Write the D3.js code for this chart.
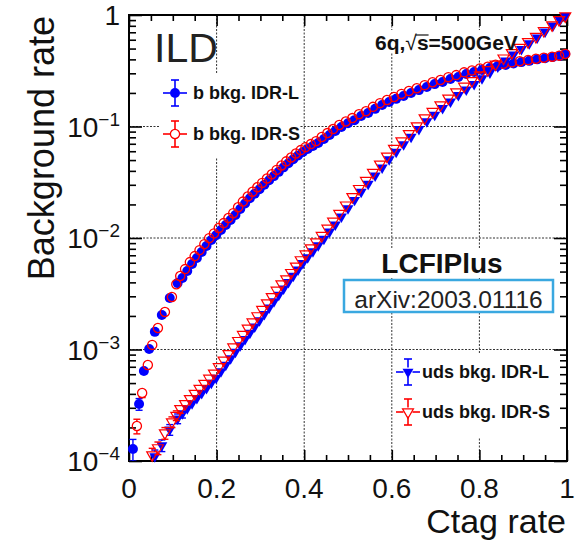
<!DOCTYPE html>
<html>
<head>
<meta charset="utf-8">
<script src="https://cdn.jsdelivr.net/npm/d3@7"></script>
<style>
  body { margin: 0; background: #fff; }
  svg text { font-family: "Liberation Sans", Arial, Helvetica, sans-serif; }
</style>
</head>
<body>
<svg width="576" height="540"></svg>
<script>
// c-tag efficiency scan, IDR-L model (b and uds share the same cut points)
var ctagL = [0.009, 0.023, 0.034, 0.046, 0.059, 0.075, 0.093, 0.111, 0.122, 0.133,
  0.144, 0.155, 0.166, 0.177, 0.188, 0.199, 0.210, 0.221, 0.232, 0.243,
  0.254, 0.265, 0.276, 0.287, 0.298, 0.309, 0.320, 0.331, 0.342, 0.353,
  0.364, 0.375, 0.386, 0.397, 0.408, 0.420, 0.432, 0.445, 0.458, 0.471,
  0.485, 0.500, 0.515, 0.530, 0.546, 0.562, 0.578, 0.594, 0.610, 0.627,
  0.644, 0.662, 0.680, 0.698, 0.716, 0.734, 0.752, 0.770, 0.788, 0.806,
  0.824, 0.842, 0.860, 0.878, 0.896, 0.914, 0.932, 0.950, 0.968, 0.984,
  0.996];
var bkgBL = [1.28e-4, 3.24e-4, 6.41e-4, 1.01e-3, 1.44e-3, 2.04e-3, 2.90e-3, 3.94e-3, 4.38e-3, 5.06e-3,
  5.85e-3, 6.62e-3, 7.48e-3, 8.47e-3, 9.59e-3, 1.06e-2, 1.18e-2, 1.31e-2, 1.45e-2, 1.61e-2,
  1.82e-2, 2.04e-2, 2.27e-2, 2.50e-2, 2.74e-2, 3.00e-2, 3.29e-2, 3.59e-2, 3.92e-2, 4.30e-2,
  4.68e-2, 5.08e-2, 5.50e-2, 5.90e-2, 6.28e-2, 6.68e-2, 7.11e-2, 7.73e-2, 8.39e-2, 9.12e-2,
  9.91e-2, 0.107, 0.114, 0.124, 0.132, 0.144, 0.156, 0.166, 0.177, 0.188,
  0.200, 0.212, 0.226, 0.240, 0.251, 0.267, 0.278, 0.296, 0.308, 0.321,
  0.335, 0.349, 0.356, 0.368, 0.378, 0.388, 0.400, 0.410, 0.420, 0.430,
  0.447];
var bkgUdsL = [null, null, null, null, 1.10e-4, 1.38e-4, 1.91e-4, 2.40e-4, 2.67e-4, 2.96e-4,
  3.29e-4, 3.66e-4, 4.06e-4, 4.51e-4, 5.01e-4, 5.57e-4, 6.35e-4, 7.28e-4, 8.32e-4, 9.53e-4,
  1.09e-3, 1.24e-3, 1.41e-3, 1.60e-3, 1.82e-3, 2.07e-3, 2.37e-3, 2.70e-3, 3.08e-3, 3.52e-3,
  4.01e-3, 4.57e-3, 5.21e-3, 5.94e-3, 6.70e-3, 7.59e-3, 8.59e-3, 9.82e-3, 1.14e-2, 1.32e-2,
  1.55e-2, 1.84e-2, 2.19e-2, 2.59e-2, 3.06e-2, 3.62e-2, 4.28e-2, 5.06e-2, 5.93e-2, 6.92e-2,
  8.05e-2, 9.46e-2, 0.111, 0.127, 0.146, 0.167, 0.191, 0.214, 0.240, 0.270,
  0.304, 0.344, 0.390, 0.441, 0.495, 0.557, 0.627, 0.710, 0.804, 0.897,
  0.977];
// relative errors, only the first points have visible bars
var errBL = [0.22, 0.12, 0.08, 0.06, 0.05, 0.04, 0.03, 0.025, 0.02];
var errUdsL = [0, 0, 0, 0, 0.14, 0.12, 0.11, 0.10, 0.09, 0.085, 0.08, 0.075, 0.07, 0.065,
  0.06, 0.055, 0.05, 0.045, 0.04, 0.035, 0.03];

// IDR-S model
var ctagS = [0.018, 0.030, 0.043, 0.053, 0.066, 0.082, 0.098, 0.108, 0.117, 0.128,
  0.139, 0.150, 0.161, 0.172, 0.183, 0.194, 0.205, 0.216, 0.227, 0.238,
  0.249, 0.260, 0.271, 0.282, 0.293, 0.304, 0.315, 0.326, 0.337, 0.348,
  0.359, 0.370, 0.381, 0.392, 0.403, 0.415, 0.427, 0.440, 0.453, 0.466,
  0.480, 0.495, 0.510, 0.525, 0.541, 0.557, 0.573, 0.589, 0.605, 0.622,
  0.639, 0.657, 0.675, 0.693, 0.711, 0.729, 0.747, 0.765, 0.783, 0.801,
  0.819, 0.837, 0.855, 0.874, 0.892, 0.911, 0.929, 0.947, 0.966, 0.982,
  0.996];
var bkgBS = [2.06e-4, 4.07e-4, 7.26e-4, 1.10e-3, 1.56e-3, 2.17e-3, 2.96e-3, 3.85e-3, 4.56e-3, 5.26e-3,
  6.08e-3, 6.88e-3, 7.78e-3, 8.81e-3, 9.97e-3, 1.10e-2, 1.23e-2, 1.36e-2, 1.51e-2, 1.67e-2,
  1.89e-2, 2.12e-2, 2.36e-2, 2.60e-2, 2.85e-2, 3.12e-2, 3.42e-2, 3.73e-2, 4.08e-2, 4.47e-2,
  4.87e-2, 5.28e-2, 5.72e-2, 6.14e-2, 6.53e-2, 6.95e-2, 7.39e-2, 8.04e-2, 8.73e-2, 9.48e-2,
  0.103, 0.111, 0.119, 0.129, 0.137, 0.150, 0.162, 0.173, 0.184, 0.196,
  0.208, 0.220, 0.235, 0.249, 0.261, 0.277, 0.289, 0.306, 0.318, 0.331,
  0.344, 0.358, 0.365, 0.376, 0.385, 0.394, 0.405, 0.414, 0.423, 0.432,
  0.448];
var bkgUdsS = [null, null, null, 1.13e-4, 1.31e-4, 1.78e-4, 2.24e-4, 2.56e-4, 2.94e-4, 3.26e-4,
  3.62e-4, 4.03e-4, 4.47e-4, 4.96e-4, 5.51e-4, 6.13e-4, 6.99e-4, 8.01e-4, 9.15e-4, 1.05e-3,
  1.20e-3, 1.36e-3, 1.55e-3, 1.76e-3, 2.00e-3, 2.28e-3, 2.61e-3, 2.97e-3, 3.39e-3, 3.87e-3,
  4.29e-3, 4.89e-3, 5.57e-3, 6.36e-3, 7.17e-3, 8.12e-3, 9.19e-3, 1.05e-2, 1.22e-2, 1.41e-2,
  1.66e-2, 1.97e-2, 2.34e-2, 2.77e-2, 3.27e-2, 3.87e-2, 4.58e-2, 5.41e-2, 6.35e-2, 7.40e-2,
  8.61e-2, 0.101, 0.119, 0.136, 0.156, 0.179, 0.204, 0.229, 0.257, 0.289,
  0.322, 0.361, 0.410, 0.459, 0.510, 0.574, 0.640, 0.724, 0.812, 0.906,
  0.977];
var errBS = [0.15, 0.09, 0.07, 0.05, 0.04, 0.035, 0.03, 0.025];
var errUdsS = [0, 0, 0, 0.15, 0.13, 0.12, 0.11, 0.10, 0.09, 0.085, 0.08, 0.075, 0.07, 0.065,
  0.06, 0.055, 0.05, 0.045, 0.04, 0.035, 0.03];

var xTicks = [0, 0.2, 0.4, 0.6, 0.8, 1];
var xTickLabels = ["0", "0.2", "0.4", "0.6", "0.8", "1"];
var xMinor = [0.05, 0.1, 0.15, 0.25, 0.3, 0.35, 0.45, 0.5, 0.55, 0.65, 0.7, 0.75, 0.85, 0.9, 0.95];
var yTicks = [1e-4, 1e-3, 1e-2, 1e-1, 1];
var yTickBase = ["10", "10", "10", "10", "1"];
var yTickExp = ["\u22124", "\u22123", "\u22122", "\u22121", ""];
var xGrid = [0.2, 0.4, 0.6, 0.8];
var yGrid = [1e-3, 1e-2, 1e-1];

var legendB = ["b bkg. IDR-L", "b bkg. IDR-S"];
var legendUds = ["uds bkg. IDR-L", "uds bkg. IDR-S"];

var blue = "#0000ff", red = "#ff0000";

var svg = d3.select("svg"),
    margin = {top: 15, right: 9, bottom: 79, left: 129},
    width = +svg.attr("width") - margin.left - margin.right,
    height = +svg.attr("height") - margin.top - margin.bottom;

var gGrid = svg.append("g").attr("transform", "translate(" + margin.left + "," + margin.top + ")");
var gBoxes = svg.append("g");
var g = svg.append("g").attr("transform", "translate(" + margin.left + "," + margin.top + ")");

var x = d3.scaleLinear().domain([0, 1]).range([0, width]);
var y = d3.scaleLog().domain([1e-4, 1]).range([height, 0]);

var yMinor = [];
[-4, -3, -2, -1].forEach(function(k) {
  for (var m = 2; m <= 9; m++) yMinor.push(m * Math.pow(10, k));
});

svg.append("defs").append("clipPath").attr("id", "frame")
  .append("rect").attr("width", width).attr("height", height);

// grid
gGrid.selectAll(".gx").data(xGrid).enter().append("line")
    .attr("x1", function(d) { return x(d); }).attr("x2", function(d) { return x(d); })
    .attr("y1", 0).attr("y2", height);
gGrid.selectAll(".gy").data(yGrid).enter().append("line")
    .attr("y1", function(d) { return y(d); }).attr("y2", function(d) { return y(d); })
    .attr("x1", 0).attr("x2", width);
gGrid.selectAll("line")
    .attr("stroke", "#333").attr("stroke-width", 1).attr("stroke-dasharray", "2,1.5");

// white boxes behind legends and labels (they hide the grid, not the points)
var boxes = [[160, 73, 140, 84], [393, 354, 170, 83], [376, 248, 132, 30], [372, 30, 146, 23]];
gBoxes.selectAll("rect").data(boxes).enter().append("rect")
    .attr("x", function(d) { return d[0]; }).attr("y", function(d) { return d[1]; })
    .attr("width", function(d) { return d[2]; }).attr("height", function(d) { return d[3]; })
    .attr("fill", "#fff");

// axes ticks (inside, mirrored on top/right)
function ticks(axis, tr) {
  g.append("g").attr("transform", tr).call(axis)
    .call(function(s) {
      s.select(".domain").remove();
      s.selectAll("line").attr("stroke", "#000").attr("stroke-width", 1.6);
    });
}
ticks(d3.axisBottom(x).tickValues(xTicks).tickSize(-11).tickFormat(""), "translate(0," + height + ")");
ticks(d3.axisBottom(x).tickValues(xMinor).tickSize(-6).tickFormat(""), "translate(0," + height + ")");
ticks(d3.axisTop(x).tickValues(xTicks).tickSize(-11).tickFormat(""), "translate(0,0)");
ticks(d3.axisTop(x).tickValues(xMinor).tickSize(-6).tickFormat(""), "translate(0,0)");
ticks(d3.axisLeft(y).tickValues(yTicks).tickSize(-13).tickFormat(""), "translate(0,0)");
ticks(d3.axisLeft(y).tickValues(yMinor).tickSize(-7).tickFormat(""), "translate(0,0)");
ticks(d3.axisRight(y).tickValues(yTicks).tickSize(-13).tickFormat(""), "translate(" + width + ",0)");
ticks(d3.axisRight(y).tickValues(yMinor).tickSize(-7).tickFormat(""), "translate(" + width + ",0)");

g.append("rect").attr("width", width).attr("height", height)
    .attr("fill", "none").attr("stroke", "#000").attr("stroke-width", 2);

// tick labels
g.selectAll(".xl").data(xTicks).enter().append("text")
    .attr("x", function(d) { return x(d); })
    .attr("y", height + 37)
    .attr("text-anchor", "middle")
    .attr("font-size", 28).attr("fill", "#111")
    .text(function(d, i) { return xTickLabels[i]; });

var yl = g.selectAll(".yl").data(yTicks).enter().append("text")
    .attr("x", -9)
    .attr("y", function(d) { return y(d) + 10; })
    .attr("text-anchor", "end")
    .attr("font-size", 28).attr("fill", "#111");
yl.append("tspan").text(function(d, i) { return yTickBase[i]; });
yl.append("tspan").attr("font-size", 19).attr("dy", -11)
    .text(function(d, i) { return yTickExp[i]; });

// axis titles
svg.append("text")
    .attr("transform", "translate(54,16) rotate(-90)")
    .attr("text-anchor", "end").attr("font-size", 36).attr("fill", "#111")
    .text("Background rate");
svg.append("text")
    .attr("x", 566).attr("y", 533)
    .attr("text-anchor", "end").attr("font-size", 34).attr("fill", "#111")
    .text("Ctag rate");

// markers
var triangle = d3.symbol().type(d3.symbolTriangle).size(52);

function marker(sel, shape, color, filled) {
  if (shape == "circle") {
    sel.append("circle").attr("r", filled ? 5 : 4.6)
      .attr("fill", filled ? color : "none")
      .attr("stroke", color).attr("stroke-width", filled ? 0 : 1.3);
  } else {
    sel.append("path").attr("d", triangle).attr("transform", "rotate(180)")
      .attr("fill", filled ? color : "none")
      .attr("stroke", color).attr("stroke-width", filled ? 0 : 1.2);
  }
}

var series = [
  {x: ctagL, y: bkgBL, err: errBL, shape: "circle", color: blue, filled: true},
  {x: ctagS, y: bkgBS, err: errBS, shape: "circle", color: red, filled: false},
  {x: ctagL, y: bkgUdsL, err: errUdsL, shape: "tri", color: blue, filled: true},
  {x: ctagS, y: bkgUdsS, err: errUdsS, shape: "tri", color: red, filled: false}
];

series.forEach(function(s) {
  var pts = s.x.map(function(v, i) { return {x: v, y: s.y[i], e: s.err[i] || 0}; })
    .filter(function(d) { return d.y != null && d.y >= 1e-4; });

  // error bars, drawn outside the marker
  var eb = g.append("g").attr("clip-path", "url(#frame)")
    .attr("stroke", s.color).attr("stroke-width", 1.4);
  pts.filter(function(d) { return d.e > 0; }).forEach(function(d) {
    var cx = x(d.x), cy = y(d.y), top = y(d.y * (1 + d.e)), bot = y(d.y * (1 - d.e));
    if (cy - top > 4.5) {
      eb.append("line").attr("x1", cx).attr("x2", cx).attr("y1", top).attr("y2", cy - 4.5);
      eb.append("line").attr("x1", cx - 3.5).attr("x2", cx + 3.5).attr("y1", top).attr("y2", top);
    }
    if (bot - cy > 4.5) {
      eb.append("line").attr("x1", cx).attr("x2", cx).attr("y1", cy + 4.5).attr("y2", bot);
      eb.append("line").attr("x1", cx - 3.5).attr("x2", cx + 3.5).attr("y1", bot).attr("y2", bot);
    }
  });

  g.append("g").selectAll("g").data(pts).enter().append("g")
    .attr("transform", function(d) { return "translate(" + x(d.x) + "," + y(d.y) + ")"; })
    .each(function() { marker(d3.select(this), s.shape, s.color, s.filled); });
});

// legends
function legendEntry(cx, cy, label, tx, shape, color, filled) {
  var lg = svg.append("g").attr("transform", "translate(" + cx + "," + cy + ")");
  var st = lg.append("g").attr("stroke", color).attr("stroke-width", 1.6);
  st.append("line").attr("x1", -12).attr("x2", -4.5);
  st.append("line").attr("x1", 4.5).attr("x2", 12);
  st.append("line").attr("y1", -13).attr("y2", -4.5);
  st.append("line").attr("y1", 4.5).attr("y2", 13);
  st.append("line").attr("x1", -4).attr("x2", 4).attr("y1", -13).attr("y2", -13);
  st.append("line").attr("x1", -4).attr("x2", 4).attr("y1", 13).attr("y2", 13);
  marker(lg, shape, color, filled);
  svg.append("text").attr("x", tx).attr("y", cy + 6)
    .attr("font-size", 18).attr("font-weight", "bold").attr("fill", "#111")
    .text(label);
}
legendEntry(175, 93, legendB[0], 193, "circle", blue, true);
legendEntry(175, 134, legendB[1], 193, "circle", red, false);
legendEntry(408, 372, legendUds[0], 422, "tri", blue, true);
legendEntry(408, 412, legendUds[1], 422, "tri", red, false);

// labels
svg.append("text").attr("x", 154).attr("y", 62)
    .attr("font-size", 41).attr("fill", "#222").text("ILD");

var proc = svg.append("text").attr("x", 375).attr("y", 50)
    .attr("font-size", 21).attr("font-weight", "bold").attr("fill", "#111");
proc.append("tspan").text("6q,");
proc.append("tspan").attr("font-weight", "normal").text("\u221A");
proc.append("tspan").text("s=500GeV");
var sBox = proc.node().getExtentOfChar(4);
svg.append("line")
    .attr("x1", sBox.x - 1).attr("x2", sBox.x + sBox.width)
    .attr("y1", 35).attr("y2", 35)
    .attr("stroke", "#111").attr("stroke-width", 1.2);

svg.append("text").attr("x", 442).attr("y", 273)
    .attr("text-anchor", "middle").attr("font-size", 28).attr("font-weight", "bold")
    .attr("fill", "#111").text("LCFIPlus");

svg.append("rect").attr("x", 344).attr("y", 280).attr("width", 209).attr("height", 32)
    .attr("fill", "#fff").attr("stroke", "#3aa8e0").attr("stroke-width", 2.5);
svg.append("text").attr("x", 448.5).attr("y", 308)
    .attr("text-anchor", "middle").attr("font-size", 24.5).attr("fill", "#222")
    .text("arXiv:2003.01116");
</script>
</body>
</html>
